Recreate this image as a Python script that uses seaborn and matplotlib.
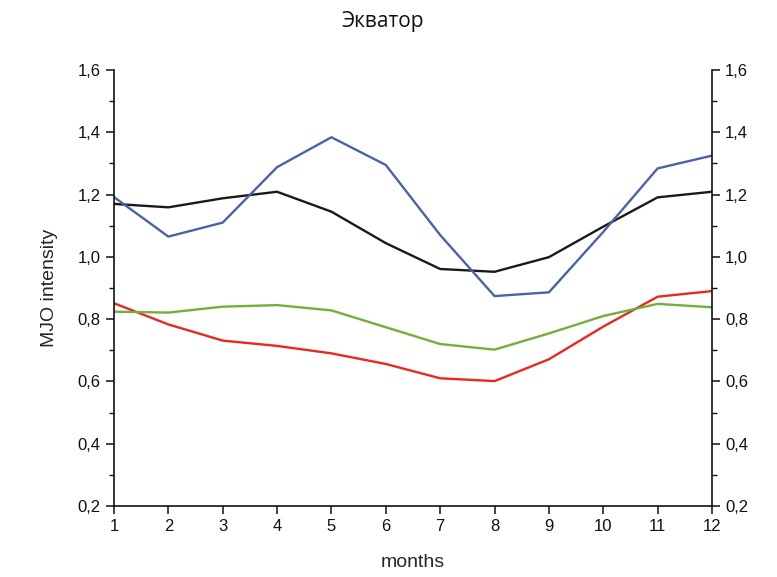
import matplotlib
matplotlib.use("Agg")
import matplotlib.pyplot as plt
from matplotlib.ticker import MultipleLocator, FuncFormatter
import seaborn as sns
import pandas as pd

months = [1, 2, 3, 4, 5, 6, 7, 8, 9, 10, 11, 12]
black_series = [1.170, 1.159, 1.188, 1.209, 1.145, 1.044, 0.961, 0.952, 0.999, 1.097, 1.191, 1.209]
blue_series = [1.192, 1.065, 1.110, 1.288, 1.384, 1.295, 1.070, 0.874, 0.886, 1.080, 1.284, 1.325]
red_series = [0.851, 0.783, 0.731, 0.714, 0.690, 0.656, 0.610, 0.601, 0.671, 0.776, 0.872, 0.890]
green_series = [0.824, 0.821, 0.840, 0.845, 0.828, 0.774, 0.720, 0.702, 0.754, 0.810, 0.849, 0.838]

series = {"black": black_series, "blue": blue_series, "red": red_series, "green": green_series}
colors = {"black": "#1a1a1a", "blue": "#4a62a8", "red": "#e8291f", "green": "#72b03c"}

df = pd.concat(
    [pd.DataFrame({"month": months, "value": v, "series": k}) for k, v in series.items()],
    ignore_index=True,
)

sns.set_style("ticks")
plt.rcParams["font.family"] = ["Liberation Sans", "DejaVu Sans"]

fig = plt.figure(figsize=(7.77, 5.77), dpi=100)
ax = fig.add_axes([0.1467, 0.1231, 0.7696, 0.7556])

sns.lineplot(data=df, x="month", y="value", hue="series", palette=colors,
             linewidth=1.7, legend=False, ax=ax, sort=False)

ax.set_xlim(1, 12)
ax.set_ylim(0.2, 1.6)
ax.set_xticks(months)
ax.yaxis.set_major_locator(MultipleLocator(0.2))
ax.yaxis.set_minor_locator(MultipleLocator(0.1))
fmt = FuncFormatter(lambda v, p: f"{v:.1f}".replace(".", ","))
ax.yaxis.set_major_formatter(fmt)

for s in ["left", "bottom", "right"]:
    ax.spines[s].set_linewidth(1.2)
    ax.spines[s].set_color("#111111")
ax.spines["top"].set_visible(False)

ax.tick_params(axis="both", which="major", direction="out", length=6, width=1.1,
               labelsize=12, color="#111111", labelcolor="#111111")
ax.tick_params(axis="y", which="minor", direction="out", length=3.5, width=1.0, color="#111111")
ax.tick_params(axis="y", which="both", right=True, labelright=True)

ax.set_xlabel("months", fontsize=14, labelpad=14)
ax.set_ylabel("MJO intensity", fontsize=14, labelpad=14)

fig.text(0.493, 0.962, "Экватор", ha="center", va="center", fontsize=15,
         family=["Open Sans", "DejaVu Sans"], color="#111111")

fig.savefig("out.png", dpi=100, facecolor="white")
